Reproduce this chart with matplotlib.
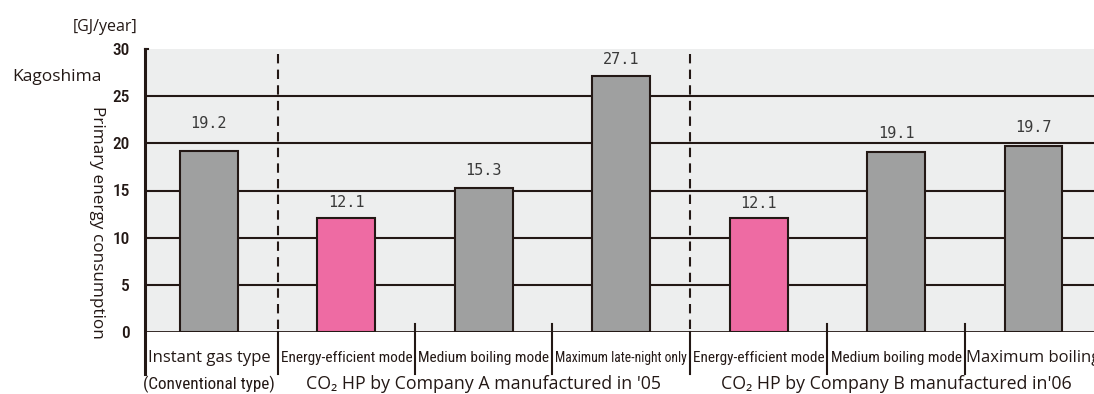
import matplotlib.pyplot as plt

# Primary energy consumption, Kagoshima
categories = ['Instant gas type', 'Energy-efficient mode', 'Medium boiling mode',
              'Maximum late-night only', 'Energy-efficient mode', 'Medium boiling mode',
              'Maximum boiling']
values = [19.2, 12.1, 15.3, 27.1, 12.1, 19.1, 19.7]
highlight = [False, True, False, False, True, False, False]
groups = ['(Conventional type)', "CO\u2082 HP by Company A manufactured in '05",
          "CO\u2082 HP by Company B manufactured in'06"]
yticks = [0, 5, 10, 15, 20, 25, 30]

ink = '#231815'
gray = '#9FA0A0'
pink = '#EE6BA3'
bg = '#EDEEEE'

narrow = ['Roboto Condensed', 'Archivo Narrow', 'Asap Condensed', 'DejaVu Sans']
wide = ['Open Sans', 'Noto Sans', 'DejaVu Sans']

fig = plt.figure(figsize=(10.94, 3.94), dpi=100)
ax = fig.add_axes([145 / 1094, 62 / 394, 949 / 1094, 283 / 394])
ax.set_xlim(-0.465, 6.44)
ax.set_ylim(0, 30)
ax.set_facecolor(bg)

for y in yticks[1:-1]:
    ax.axhline(y, color=ink, lw=1.5, zorder=1)

x = list(range(len(values)))
colors = [pink if h else gray for h in highlight]
bars = ax.bar(x, values, width=0.42, color=colors, edgecolor=ink, linewidth=1.5, zorder=2)

offsets = [14, 6, 7, 7, 5, 8, 8]
for b, v, off in zip(bars, values, offsets):
    ax.annotate(f'{v:.1f}', (b.get_x() + b.get_width() / 2, v), xytext=(0, off),
                textcoords='offset points', ha='center', va='bottom',
                fontsize=11, family='DejaVu Sans Mono', color='#3a3a3a')

# group separators (dashed) and mode separators (short ticks)
for xs in [0.5, 3.5]:
    ax.plot([xs, xs], [0.3, 30], color=ink, lw=1.5, ls=(0, (4.5, 3)), zorder=3)
    ax.plot([xs, xs], [0, -4.4], color=ink, lw=1.5, clip_on=False)
for xs in [1.5, 2.5, 4.5, 5.5]:
    ax.plot([xs, xs], [0.9, -4.4], color=ink, lw=1.5, clip_on=False, zorder=3)
ax.plot([-0.465, -0.465], [30, -4.4], color=ink, lw=2.2, clip_on=False, zorder=4)
ax.plot([-0.465, -0.44], [30, 30], color=ink, lw=1.5, clip_on=False, zorder=4)
ax.axhline(0, color=ink, lw=2.0, zorder=4)

for s in ax.spines.values():
    s.set_visible(False)
ax.set_xticks([])
ax.set_yticks(yticks)
ax.tick_params(axis='y', length=0, pad=11)
for t in ax.get_yticklabels():
    t.set_family(narrow)
    t.set_fontsize(12.5)
    t.set_fontweight('medium')
    t.set_color(ink)

# mode labels: regular face for the short ones, long ones in a
# condensed face shrunk to fit between the separators
renderer = fig.canvas.get_renderer()
slot = 131
for i, c in enumerate(categories):
    t = ax.text(i, -2.75, c, ha='center', va='center', fontsize=12, family=wide,
                color=ink, clip_on=False)
    if t.get_window_extent(renderer).width > 145:
        t.set_family(narrow)
        t.set_fontsize(13)
        w = t.get_window_extent(renderer).width
        if w > slot:
            t.set_fontsize(13 * slot / w)

ax.text(0, -5.5, groups[0], ha='center', va='center', fontsize=12.3, family=narrow,
        color=ink)
ax.text(2.0, -5.5, groups[1], ha='center', va='center', fontsize=12.8,
        family=wide, color=ink)
ax.text(5.0, -5.5, groups[2], ha='center', va='center', fontsize=12.8,
        family=wide, color=ink)

fig.text(105 / 1094, 1 - 27 / 394, '[GJ/year]', ha='center', va='center',
         fontsize=11.5, family=wide, color=ink)
fig.text(57 / 1094, 1 - 77 / 394, 'Kagoshima', ha='center', va='center',
         fontsize=12.5, family=wide, color=ink)
fig.text(97 / 1094, 1 - 222 / 394, 'Primary energy consumption', ha='center',
         va='center', rotation=270, fontsize=12.3, family=wide, color=ink)

fig.savefig('out.png', dpi=100)
